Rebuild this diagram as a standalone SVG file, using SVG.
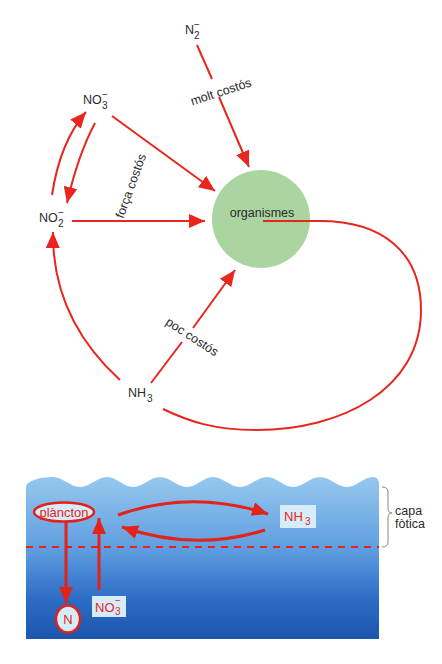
<svg xmlns="http://www.w3.org/2000/svg" width="442" height="664" viewBox="0 0 442 664">
<defs>
<style>
.t{font-family:"Liberation Sans",Arial,sans-serif;fill:#2b2b2b;font-size:12.5px}
.s{font-family:"Liberation Sans",Arial,sans-serif;fill:#2b2b2b;font-size:10px}
.rt{font-family:"Liberation Sans",Arial,sans-serif;fill:#e3261e;font-size:13px}
.rs{font-family:"Liberation Sans",Arial,sans-serif;fill:#e3261e;font-size:10px}
.ln{fill:none;stroke:#e8261d;stroke-width:2}
.lb{fill:none;stroke:#e3221a;stroke-width:3}
.box{fill:#d6ecf8}
</style>
<marker id="ah" viewBox="0 0 16 14" refX="16" refY="7" markerWidth="16" markerHeight="14" markerUnits="userSpaceOnUse" orient="auto">
<path d="M0,0 L16,7 L0,14 z" fill="#e8261d"/>
</marker>
<marker id="ahb" viewBox="0 0 16 14" refX="16" refY="7" markerWidth="16" markerHeight="14" markerUnits="userSpaceOnUse" orient="auto">
<path d="M0,0 L16,7 L0,14 z" fill="#e3221a"/>
</marker>
<linearGradient id="water" x1="0" y1="477" x2="0" y2="639" gradientUnits="userSpaceOnUse">
<stop offset="0" stop-color="#96c8ee"/>
<stop offset="0.45" stop-color="#5e9de0"/>
<stop offset="0.75" stop-color="#2e6dc5"/>
<stop offset="1" stop-color="#1a55ae"/>
</linearGradient>
</defs>
<rect width="442" height="664" fill="#ffffff"/>

<!-- top diagram -->
<g id="organismes">
<circle cx="261" cy="219" r="49" fill="#aad5a0"/>
<text class="t" x="262" y="217" text-anchor="middle" font-size="13">organismes</text>
</g>
<g id="connectors-top">
<path class="ln" d="M197,45 L212,79"/>
<path class="ln" d="M219,97 L249,167" marker-end="url(#ah)"/>
<path class="ln" d="M112,116 L215,191" marker-end="url(#ah)"/>
<path class="ln" d="M72,221 L205,221" marker-end="url(#ah)"/>
<path class="ln" d="M52,195 Q60,142 86,112" marker-end="url(#ah)"/>
<path class="ln" d="M95,123 Q78,155 67,203" marker-end="url(#ah)"/>
<path class="ln" d="M120,380 Q52,318 53,232" marker-end="url(#ah)"/>
<path class="ln" d="M151,383 L182,342"/>
<path class="ln" d="M193,328 L235,270" marker-end="url(#ah)"/>
<path class="ln" d="M263,221 L320,221 C382,221 421,252 421,310 C421,390 340,430 257,430 C215,430 190,422 163,409"/>
<text class="t" transform="translate(221,92) rotate(-18)" text-anchor="middle" dominant-baseline="central" font-size="12">molt costós</text>
<text class="t" transform="translate(131,186) rotate(-70)" text-anchor="middle" dominant-baseline="central" font-size="12">força costós</text>
<text class="t" transform="translate(192,337) rotate(33)" text-anchor="middle" dominant-baseline="central" font-size="12">poc costós</text>
</g>
<g id="N2">
<text class="t" x="185" y="34">N</text>
<text class="s" x="194" y="39">2</text>
<text class="s" x="194" y="28">−</text>
</g>
<g id="NO3">
<text class="t" x="83" y="104">NO</text>
<text class="s" x="102" y="109">3</text>
<text class="s" x="102" y="98">−</text>
</g>
<g id="NO2">
<text class="t" x="39" y="222">NO</text>
<text class="s" x="58" y="227">2</text>
<text class="s" x="58" y="216">−</text>
</g>
<g id="NH3">
<text class="t" x="128" y="397">NH</text>
<text class="s" x="147" y="402">3</text>
</g>

<!-- bottom diagram -->
<g id="water">
<path fill="url(#water)" d="M26,639 L26,487 C26,481 40,477 53,477 C63,477 70,487 80,487 C90,487 97,477 107,477 C117,477 123,487 133,487 C143,487 150,477 160,477 C170,477 177,487 187,487 C197,487 203,477 213,477 C223,477 230,487 240,487 C250,487 257,477 267,477 C277,477 283,487 293,487 C303,487 310,477 320,477 C330,477 337,487 347,487 C357,487 363,477 373,477 C377,477 379,480 379,484 L379,639 Z"/>
<line x1="26" y1="547" x2="379" y2="547" stroke="#e3221a" stroke-width="2" stroke-dasharray="7 6"/>
</g>
<g id="capa-fotica">
<path d="M382,487 Q388,487 388,492 L388,508 Q388,513 392,513 Q388,513 388,518 L388,542 Q388,547 382,547" fill="none" stroke="#888" stroke-width="1"/>
<text class="t" x="395" y="515" font-size="13">capa</text>
<text class="t" x="395" y="528" font-size="13">fòtica</text>
</g>
<g id="plancton">
<ellipse cx="64" cy="512" rx="30" ry="9.5" fill="#d6ecf8" stroke="#e3221a" stroke-width="2.5"/>
<text class="rt" x="64" y="516.5" text-anchor="middle">plàncton</text>
</g>
<g id="N">
<ellipse cx="68" cy="619" rx="12" ry="13.5" fill="#d6ecf8" stroke="#e3221a" stroke-width="2.5"/>
<text class="rt" x="68" y="624" text-anchor="middle">N</text>
</g>
<g id="NO3-box">
<rect class="box" x="92" y="596" width="34" height="21"/>
<text class="rt" x="95" y="612">NO</text>
<text class="rs" x="115" y="615">3</text>
<text class="rs" x="115" y="604">−</text>
</g>
<g id="NH3-box">
<rect class="box" x="280" y="505" width="36" height="23"/>
<text class="rt" x="284" y="521">NH</text>
<text class="rs" x="305" y="525">3</text>
</g>
<g id="connectors-bottom">
<path class="lb" d="M66,522 L66,603" marker-end="url(#ahb)"/>
<path class="lb" d="M99,590 L99,518" marker-end="url(#ahb)"/>
<path class="lb" d="M118,515 Q192,489 268,514" marker-end="url(#ahb)"/>
<path class="lb" d="M265,530 Q195,552 122,527" marker-end="url(#ahb)"/>
</g>
</svg>
